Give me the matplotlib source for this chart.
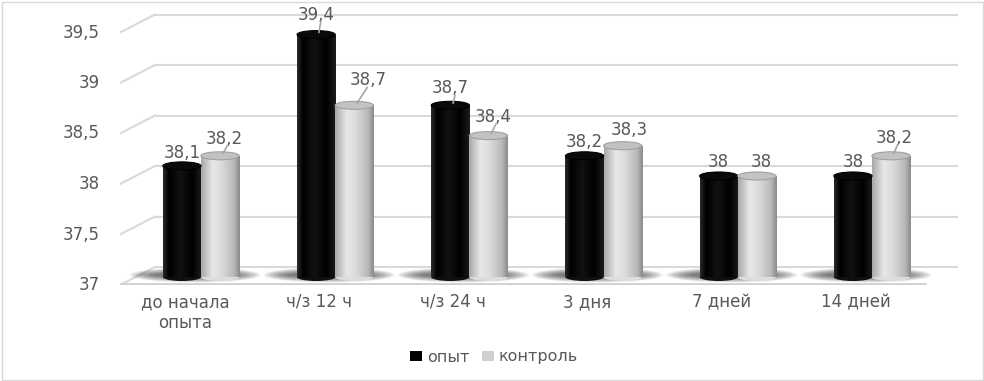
import numpy as np
import matplotlib
matplotlib.use("Agg")
import matplotlib.pyplot as plt
from matplotlib.colors import LinearSegmentedColormap
from matplotlib.patches import Ellipse, Rectangle
from matplotlib.transforms import offset_copy, blended_transform_factory

categories = ["до начала\nопыта", "ч/з 12 ч", "ч/з 24 ч", "3 дня", "7 дней", "14 дней"]
opyt = [38.1, 39.4, 38.7, 38.2, 38.0, 38.0]
kontrol = [38.2, 38.7, 38.4, 38.3, 38.0, 38.2]
series_names = ["опыт", "контроль"]
y_ticks = [37, 37.5, 38, 38.5, 39, 39.5]
y_tick_labels = ["37", "37,5", "38", "38,5", "39", "39,5"]

# label nudges in pixels (dx, dy) from the top of each cylinder
opyt_nudge = [(0, 13), (0, 20), (0, 17), (0, 14), (0, 14), (0, 14)]
kontrol_nudge = [(4, 17), (14, 25), (5, 19), (7, 16), (4, 14), (3, 18)]

W, H, DPI = 984, 381, 100
PX = 101          # pixels per unit on the bar plane
BASE = 37
GROUP = 134.2     # pixels between groups
BW = 0.285        # bar width (group units)
OFF = 0.142
TEXT = "#595959"
GRID = "#d9d9d9"
FS = 12

fig = plt.figure(figsize=(W / DPI, H / DPI), dpi=DPI)
left, right, top, bottom = 120, 958, 5, 285
ax = fig.add_axes([left / W, (H - bottom) / H, (right - left) / W, (bottom - top) / H])
ax.axis("off")

bt = blended_transform_factory(ax.transAxes, ax.transData)
back_x0 = (155 - left) / (right - left)
front_x1 = (925 - left) / (right - left)
rise = 18 / PX

# back wall gridlines and left wall diagonals
for v, lab in zip(y_ticks, y_tick_labels):
    ax.plot([back_x0, 1], [v, v], color=GRID, lw=1.5, zorder=1,
            transform=offset_copy(bt, fig=fig, y=10, units="dots"))
    ax.plot([0, back_x0], [v, v + rise], color=GRID, lw=1.5, zorder=1,
            transform=offset_copy(bt, fig=fig, y=-8, units="dots"))
    ax.text(0, v, lab, ha="right", va="center", fontsize=FS, color=TEXT,
            transform=offset_copy(bt, fig=fig, x=-20, y=-8, units="dots"))

# floor front edge
ax.plot([0, front_x1], [BASE, BASE], color="#d0d0d0", lw=2, zorder=1,
        transform=offset_copy(bt, fig=fig, y=-7, units="dots"))

x = np.arange(len(categories))

# soft shadows on the floor
for i in x:
    for k in range(14):
        ax.add_patch(Ellipse((i - 6 / GROUP, BASE + 2 / PX), 0.98 - k * 0.028, (15 - k * 0.8) / PX,
                             facecolor="#1a1a1a", edgecolor="none", alpha=0.055, zorder=2))

black_cmap = LinearSegmentedColormap.from_list(
    "blk", [(0, "#2a2a2a"), (0.15, "#000000"), (0.45, "#121212"), (0.75, "#000000"), (1, "#1c1c1c")])
gray_cmap = LinearSegmentedColormap.from_list(
    "gry", [(0, "#a8a8a8"), (0.3, "#e8e8e8"), (0.55, "#dadada"), (0.85, "#b8b8b8"), (1, "#8a8a8a")])


def cylinders(xs, vals, cmap, top_face, top_edge):
    bars = ax.bar(xs, np.array(vals) - BASE, bottom=BASE, width=BW,
                  color=cmap(0.5), edgecolor="none", zorder=3)
    grad = np.linspace(0, 1, 128).reshape(1, -1)
    eh = 8 / PX
    for b in bars:
        x0, y0, w, h = b.get_x(), b.get_y(), b.get_width(), b.get_height()
        xc = x0 + w / 2
        ax.add_patch(Ellipse((xc, y0), w, eh, facecolor=cmap(0.5), edgecolor="none", zorder=2.9))
        im = ax.imshow(grad, cmap=cmap, extent=[x0, x0 + w, y0, y0 + h], aspect="auto",
                       interpolation="bilinear", zorder=3.05)
        im.set_clip_path(b)
        ax.add_patch(Ellipse((xc, y0 + h), w, eh, facecolor=top_face, edgecolor=top_edge,
                             lw=0.8, zorder=3.1))
    return bars


cylinders(x - OFF, opyt, black_cmap, "#0a0a0a", "#000000")
cylinders(x + OFF, kontrol, gray_cmap, "#c2c2c2", "#a0a0a0")


def fmt(v):
    return f"{v:g}".replace(".", ",")


for xs, vals, nudges in [(x - OFF, opyt, opyt_nudge), (x + OFF, kontrol, kontrol_nudge)]:
    for xi, v, (dx, dy) in zip(xs, vals, nudges):
        ax.annotate(fmt(v), (xi, v), xytext=(dx, dy), textcoords="offset pixels",
                    ha="center", va="center", fontsize=FS, color=TEXT, zorder=5)
        if dy >= 17:
            ax.annotate("", (xi + 0.02, v + 2 / PX), xytext=(dx * 0.6 + 2, dy - 9),
                        textcoords="offset pixels", zorder=5,
                        arrowprops=dict(arrowstyle="-", color="#a6a6a6", lw=1.2,
                                        shrinkA=0, shrinkB=0))

# category labels
for i, cat in zip(x, categories):
    ax.text(i, BASE, cat, ha="center", va="top", fontsize=FS, color=TEXT, linespacing=1.2,
            transform=offset_copy(ax.transData, fig=fig, x=-16, y=-16, units="dots"))

ax.set_xlim(-(201 - left) / GROUP, (right - 201) / GROUP)
ax.set_ylim(BASE - 8 / PX, BASE + (277 - top) / PX)

handles = [Rectangle((0, 0), 1, 1, facecolor="#000000"),
           Rectangle((0, 0), 1, 1, facecolor="#d0d0d0")]
fig.legend(handles, series_names, loc="center", bbox_to_anchor=(494 / W, (H - 357) / H),
           ncol=2, frameon=False, fontsize=11.5, labelcolor=TEXT, handlelength=0.75,
           handleheight=0.6, handletextpad=0.3, columnspacing=0.8)

fig.add_artist(Rectangle((1.5 / W, 1.5 / H), (W - 3) / W, (H - 3) / H, transform=fig.transFigure,
                         fill=False, edgecolor="#d9d9d9", lw=1))

fig.savefig("out.png", dpi=DPI)
